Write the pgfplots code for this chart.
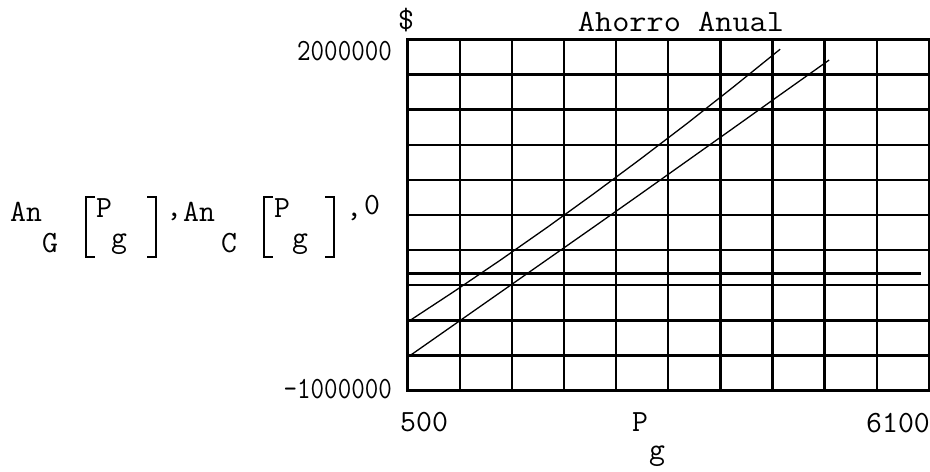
\documentclass[border=0pt]{standalone}
\usepackage{fontspec}
\usepackage{pgfplots}
\pgfplotsset{compat=1.18}
\newcommand{\mc}{\ttfamily\fontsize{31}{36}\selectfont}
\begin{document}
\begin{tikzpicture}[x=1bp,y=1bp]
\useasboundingbox (0,0) rectangle (930,472);
\begin{axis}[
  at={(407.7bp,81.3bp)}, anchor=south west,
  scale only axis, width=521.1bp, height=351.4bp,
  xmin=500, xmax=6100, ymin=-1000000, ymax=2000000,
  xtick={500,1060,1620,2180,2740,3300,3860,4420,4980,5540,6100},
  ytick={-1000000,-700000,-400000,-100000,200000,500000,800000,1100000,1400000,1700000,2000000},
  xticklabels={}, yticklabels={}, scaled ticks=false,
  major tick length=0pt,
  grid=major, major grid style={black, line width=2.3bp},
  axis line style={black, line width=2.6bp},
]
% An_G(P_g)
\addplot[black, line width=1.3bp] coordinates {
  (500,-413000) (1000,-152000) (1500,117000) (2000,395000) (2500,682000)
  (3000,977000) (3500,1280000) (4000,1593000) (4502,1915000)};
% An_C(P_g)
\addplot[black, line width=1.3bp] coordinates {
  (500,-714000) (1000,-436000) (1500,-158000) (2000,120000) (2500,398000)
  (3000,678000) (3500,960000) (4000,1242000) (4500,1525000) (5029,1823000)};
% zero line
\addplot[black, line width=2.3bp] coordinates {(500,0) (6020,0)};
\end{axis}
% titles and tick labels
\begin{scope}[every node/.style={inner sep=0pt, font=\mc}]
\node[anchor=base west] at (398,442) {\$};
\node[anchor=base, xscale=1.08] at (681,440.5) {Ahorro Anual};
\node[anchor=base east, xscale=0.85] at (392,411) {2000000};
\node[anchor=base east, xscale=0.85] at (392,73) {-1000000};
\node[anchor=base west] at (400,40) {500};
\node[anchor=base east] at (930,39) {6100};
\node[anchor=base] at (640,40) {P};
\node[anchor=base] at (657,12) {g};
% y label: An_G[P_g], An_C[P_g], 0
\node[anchor=base west] at (10,250) {An};
\node[anchor=base west] at (42,219) {G};
\node[anchor=base west] at (96,254) {P};
\node[anchor=base west] at (111,224) {g};
\node[anchor=base west] at (166,255) {,};
\node[anchor=base west] at (183,250) {An};
\node[anchor=base west] at (221,219) {C};
\node[anchor=base west] at (274,254) {P};
\node[anchor=base west] at (292,224) {g};
\node[anchor=base west] at (346,255) {,};
\node[anchor=base west] at (364,257) {0};
\end{scope}
\begin{scope}[line width=1.8bp, black]
\draw (95,275) -- (86,275) -- (86,215) -- (95,215);
\draw (147,275) -- (156,275) -- (156,215) -- (147,215);
\draw (273,275) -- (264,275) -- (264,215) -- (273,215);
\draw (325,275) -- (334,275) -- (334,215) -- (325,215);
\end{scope}
\end{tikzpicture}
\end{document}
